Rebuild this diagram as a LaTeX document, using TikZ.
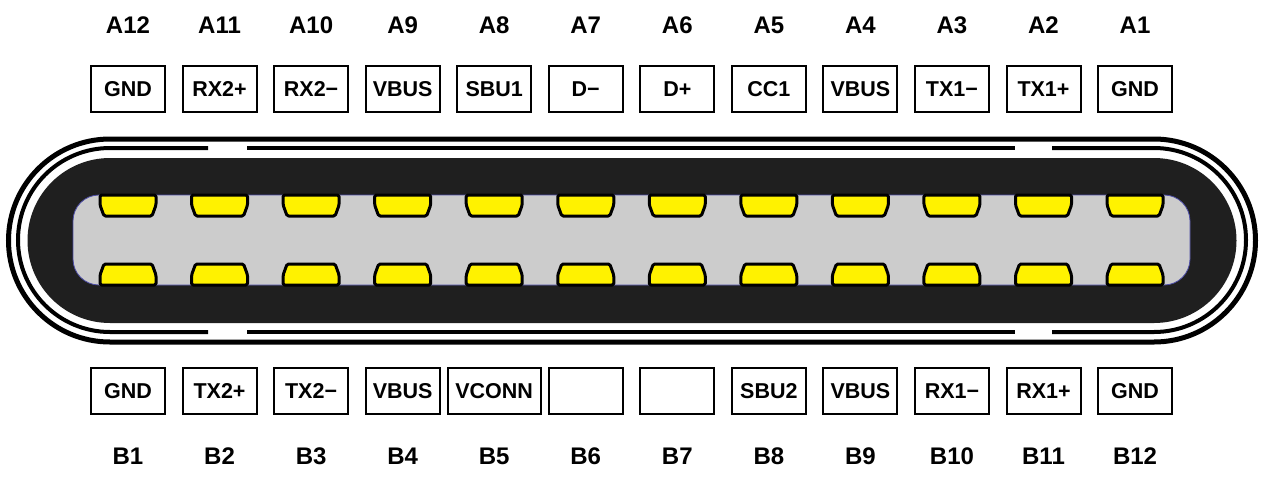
\documentclass[tikz,border=0pt]{standalone}
\usepackage{fontspec}
\setmainfont{Liberation Sans}
\begin{document}
\begin{tikzpicture}[x=1pt,y=-1pt,
  pinbox/.style={draw,line width=2pt,minimum width=74pt,minimum height=46pt,inner sep=1pt,text height=15pt,text depth=0pt,font=\fontsize{21.5}{23}\selectfont\bfseries},
  pinlbl/.style={anchor=base,font=\fontsize{24}{26}\selectfont\bfseries},
  contact/.style={draw,line width=3pt,fill=yellow,rounded corners=1.5pt,line join=round}]
\useasboundingbox (0,0) rectangle (1267,488);
% shell
\draw[line width=5pt] (110,139) -- (1154,139) arc[start angle=-90,end angle=90,radius=101.5] -- (110,342) arc[start angle=90,end angle=270,radius=101.5] -- cycle;
\draw[line width=4pt] (208,148) -- (110,148) arc[start angle=270,end angle=90,radius=92] -- (208,332);
\draw[line width=4pt] (247,148) -- (1015,148);
\draw[line width=4pt] (247,332) -- (1015,332);
\draw[line width=4pt] (1052,148) -- (1154,148) arc[start angle=-90,end angle=90,radius=92] -- (1052,332);
\fill[black!88] (110,158) -- (1154,158) arc[start angle=-90,end angle=90,radius=82.5] -- (110,323) arc[start angle=90,end angle=270,radius=82.5] -- cycle;
\draw[fill=black!20,draw=blue!50!black!70,line width=0.8pt,rounded corners=26pt] (73,195) rectangle (1190,285);
\foreach \i/\ta/\tb/\la/\lb [count=\k from 0] in {
 12/GND/GND/A12/B1, 11/RX2+/TX2+/A11/B2, 10/RX2−/TX2−/A10/B3, 9/VBUS/VBUS/A9/B4,
 8/SBU1/VCONN/A8/B5, 7/D−//A7/B6, 6/D+//A6/B7, 5/CC1/SBU2/A5/B8,
 4/VBUS/VBUS/A4/B9, 3/TX1−/RX1−/A3/B10, 2/TX1+/RX1+/A2/B11, 1/GND/GND/A1/B12} {
  \pgfmathsetmacro{\cx}{128+91.55*\k}
  \node[pinlbl] (la\k) at (\cx,33) {\la};
  \node[pinbox] (ta\k) at (\cx,89) {\ta};
  \ifnum\k=4
    \node[pinbox,minimum width=93pt] (tb\k) at (\cx,391) {\tb};
  \else
    \node[pinbox] (tb\k) at (\cx,391) {\tb};
  \fi
  \node[pinlbl] (lb\k) at (\cx,464) {\lb};
  \draw[contact] (\cx-28,195) -- (\cx+28,195) -- (\cx+28,205) -- (\cx+24,216) -- (\cx-24,216) -- (\cx-28,205) -- cycle;
  \draw[contact] (\cx-28,285) -- (\cx+28,285) -- (\cx+28,275) -- (\cx+24,264) -- (\cx-24,264) -- (\cx-28,275) -- cycle;
}
\end{tikzpicture}
\end{document}
